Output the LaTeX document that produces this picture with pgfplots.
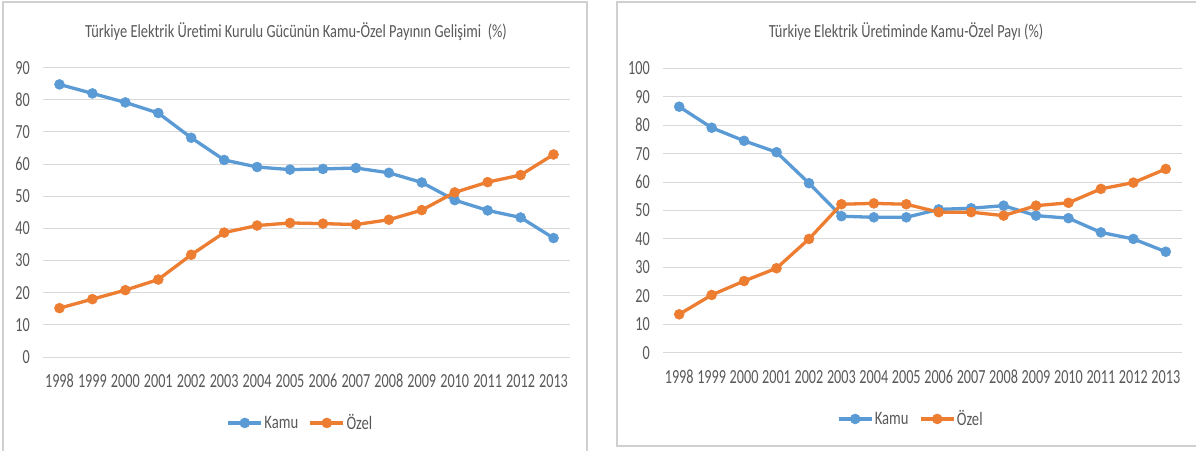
\documentclass[border=0pt]{standalone}
\usepackage{fontspec}
\usepackage{pgfplots}
\pgfplotsset{compat=1.18}
\newfontfamily\tickfont[FakeStretch=0.71]{Carlito}
\newfontfamily\titlefont[FakeStretch=0.78]{Carlito}
\newfontfamily\legfont[FakeStretch=0.77]{Carlito}
\definecolor{kamu}{HTML}{5B9BD5}
\definecolor{ozel}{HTML}{ED7D31}
\definecolor{gridc}{HTML}{D9D9D9}
\definecolor{txt}{HTML}{595959}
\definecolor{boxc}{HTML}{D0D0D0}

\pgfplotstableread{
x lk lo rk ro
0  84.8 15.2 86.5 13.5
1  82.0 18.0 79.1 20.3
2  79.2 20.8 74.5 25.2
3  75.9 24.1 70.5 29.7
4  68.2 31.8 59.6 40.0
5  61.3 38.7 48.0 52.2
6  59.1 40.9 47.6 52.5
7  58.3 41.7 47.6 52.2
8  58.5 41.5 50.4 49.4
9  58.8 41.2 50.8 49.4
10 57.3 42.7 51.7 48.2
11 54.3 45.7 48.2 51.7
12 48.8 51.2 47.3 52.7
13 45.6 54.4 42.3 57.6
14 43.4 56.6 40.0 59.8
15 37.0 63.0 35.5 64.6
}\data

\pgfplotsset{
  mystyle/.style={
    scale only axis,
    xmin=-0.5, xmax=15.5, ymin=0,
    axis line style={draw=none},
    tick style={draw=none},
    ymajorgrids, grid style={gridc, line width=1pt},
    xtick={0,...,15},
    xticklabels={1998,1999,2000,2001,2002,2003,2004,2005,2006,2007,2008,2009,2010,2011,2012,2013},
    /pgf/number format/assume math mode=true,
    /pgf/number format/1000 sep={},
    ticklabel style={font=\fontsize{20}{21}\tickfont, text=txt},
    yticklabel style={inner sep=0pt, anchor=east, xshift=-13pt},
    xticklabel style={inner sep=0pt, anchor=center, yshift=-24pt},
    legend columns=2,
    legend style={draw=none, fill=none, font=\fontsize{19}{20}\legfont, text=txt,
      /tikz/every even column/.append style={column sep=9pt},
      nodes={inner sep=1.5pt}},
    legend image code/.code={\draw[##1,mark repeat=2,mark phase=2] plot coordinates {(0pt,0pt) (16.5pt,0pt) (33pt,0pt)};},
    every axis plot/.append style={line width=3.3pt, mark=*, mark size=5pt, mark options={solid, line width=0.5pt}},
  }
}

\begin{document}
\begin{tikzpicture}
\useasboundingbox (0,0) rectangle (1196pt,450pt);
\fill[white] (0,0) rectangle (1196pt,450pt);
\draw[boxc, line width=1.5pt] (3pt,-10pt) -- (3pt,448pt) -- (587pt,448pt) -- (587pt,-10pt);
\draw[boxc, line width=1.5pt] (617pt,4pt) rectangle (1200pt,448pt);

\node[text=txt, font=\fontsize{18.5}{20}\titlefont] at (296pt,418.3pt) {Türkiye Elektrik Üretimi Kurulu Gücünün Kamu-Özel Payının Gelişimi\ \ (\%)};
\node[text=txt, font=\fontsize{18.5}{20}\titlefont] at (906pt,418pt) {Türkiye Elektrik Üretiminde Kamu-Özel Payı (\%)};

\begin{axis}[mystyle, at={(43pt,93pt)}, anchor=south west, width=527pt, height=289.3pt,
  ymax=90, ytick={0,10,...,90},
  legend style={at={(0.488,-0.228)}, anchor=center}]
\addplot[kamu] table[x=x,y=lk]{\data};
\addlegendentry{Kamu}
\addplot[ozel] table[x=x,y=lo]{\data};
\addlegendentry{Özel}
\end{axis}

\begin{axis}[mystyle, at={(663pt,97.3pt)}, anchor=south west, width=519pt, height=284.4pt,
  ymax=100, ytick={0,10,...,100},
  legend style={at={(0.477,-0.233)}, anchor=center}]
\addplot[kamu] table[x=x,y=rk]{\data};
\addlegendentry{Kamu}
\addplot[ozel] table[x=x,y=ro]{\data};
\addlegendentry{Özel}
\end{axis}
\end{tikzpicture}
\end{document}
